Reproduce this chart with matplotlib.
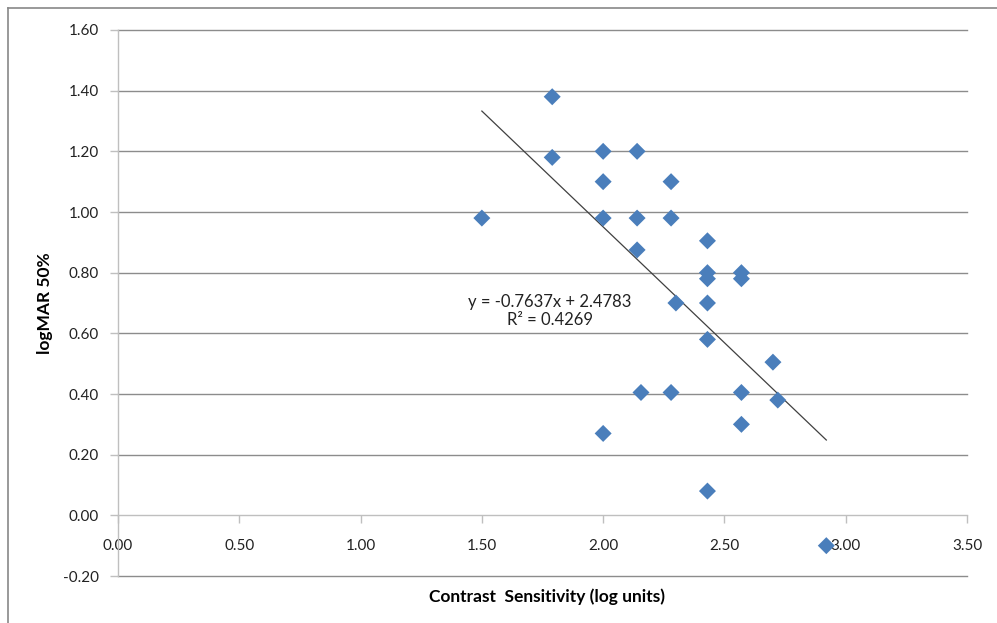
import matplotlib
matplotlib.use("Agg")
import matplotlib.pyplot as plt
from matplotlib.lines import Line2D
import numpy as np

plt.rcParams['font.family'] = ['Lato', 'DejaVu Sans']

contrast = [1.50, 1.79, 1.79, 2.00, 2.00, 2.00, 2.00, 2.14, 2.14, 2.14, 2.156,
            2.28, 2.28, 2.28, 2.30, 2.43, 2.43, 2.43, 2.43, 2.43, 2.43,
            2.57, 2.57, 2.57, 2.57, 2.70, 2.72, 2.92]
logmar = [0.98, 1.38, 1.18, 1.20, 1.10, 0.98, 0.27, 1.20, 0.98, 0.875, 0.405,
          1.10, 0.98, 0.405, 0.70, 0.905, 0.80, 0.78, 0.70, 0.58, 0.08,
          0.80, 0.78, 0.405, 0.30, 0.505, 0.38, -0.10]
slope, intercept = -0.7637, 2.4783
eq_text = "y = -0.7637x + 2.4783\nR² = 0.4269"
xticks = [0.0, 0.5, 1.0, 1.5, 2.0, 2.5, 3.0, 3.5]
yticks = [-0.2, 0.0, 0.2, 0.4, 0.6, 0.8, 1.0, 1.2, 1.4, 1.6]

fig = plt.figure(figsize=(9.97, 6.23), dpi=100)
ax = fig.add_axes([118/997, 47/623, (967-118)/997, (576-30)/623])

ax.set_xlim(0, 3.5)
ax.set_ylim(-0.2, 1.6)

for y in yticks:
    if y != 0.0:
        ax.axhline(y, color='#8c8c8c', lw=1.0, zorder=1, clip_on=False)

for s in ['top', 'right']:
    ax.spines[s].set_visible(False)
ax.spines['left'].set_color('#bfbfbf')
ax.spines['left'].set_linewidth(1.0)
ax.spines['bottom'].set_position(('data', 0))
ax.spines['bottom'].set_color('#bfbfbf')
ax.spines['bottom'].set_linewidth(1.0)

ax.set_xticks(xticks)
ax.set_xticklabels([f"{v:.2f}" for v in xticks])
ax.set_yticks(yticks)
ax.set_yticklabels([f"{v:.2f}" for v in yticks])
ax.tick_params(axis='both', colors='#bfbfbf', labelcolor='#222222', labelsize=11,
               length=6, width=1)
ax.tick_params(axis='y', pad=8)
ax.tick_params(axis='x', pad=11)

ax.scatter(contrast, logmar, marker='D', s=75, color='#4a7ebb', edgecolors='none', zorder=3)

xs = np.array([min(contrast), max(contrast)])
ax.plot(xs, slope * xs + intercept, color='#404040', lw=0.9, zorder=2)

ax.text(1.781, 0.675, eq_text, ha='center', va='center', fontsize=12,
        color='#222222', linespacing=1.15)

ax.set_xlabel("Contrast  Sensitivity (log units)", fontsize=12.5, fontweight='bold')
ax.xaxis.set_label_coords((547-118)/(967-118), -(597-576)/546)
ax.xaxis.label.set_va('center')
ax.set_ylabel("logMAR 50%", fontsize=12.5, fontweight='bold')
ax.yaxis.set_label_coords(-(118-45)/849, (576-303)/546)
ax.yaxis.label.set_va('center')

fig.add_artist(Line2D([8/997, 8/997], [0, 1-8/623], color='#888888', lw=1.2))
fig.add_artist(Line2D([8/997, 1], [1-8/623, 1-8/623], color='#888888', lw=1.2))

fig.savefig("out.png", dpi=100)
